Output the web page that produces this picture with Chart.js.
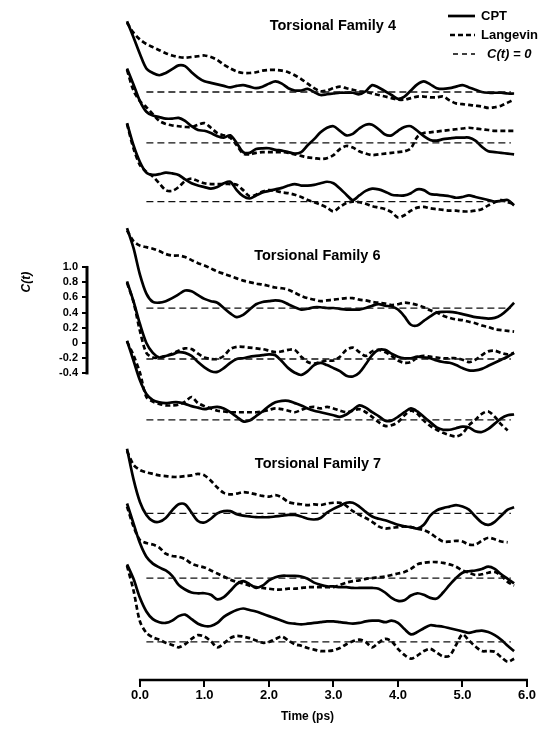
<!DOCTYPE html>
<html lang="en">
<head>
<meta charset="UTF-8" />
<title>C(t) for torsional families</title>
<script src="https://cdn.jsdelivr.net/npm/chart.js"></script>
<style>
  html, body { margin: 0; padding: 0; background: #fff; }
</style>
</head>
<body>
<canvas id="ctChart" width="555" height="730"></canvas>

<script>
// time grid (ps)
const times = [
  -0.2, -0.1,
  0.0, 0.1, 0.2, 0.3, 0.4, 0.5, 0.6, 0.7, 0.8, 0.9,
  1.0, 1.1, 1.2, 1.3, 1.4, 1.5, 1.6, 1.7, 1.8, 1.9,
  2.0, 2.1, 2.2, 2.3, 2.4, 2.5, 2.6, 2.7, 2.8, 2.9,
  3.0, 3.1, 3.2, 3.3, 3.4, 3.5, 3.6, 3.7, 3.8, 3.9,
  4.0, 4.1, 4.2, 4.3, 4.4, 4.5, 4.6, 4.7, 4.8, 4.9,
  5.0, 5.1, 5.2, 5.3, 5.4, 5.5, 5.6, 5.7, 5.8
];

// Torsional Family 4
const cpt4a = [0.93, 0.72,
  0.50, 0.31, 0.25, 0.22, 0.25, 0.30, 0.35, 0.34, 0.26, 0.19,
  0.14, 0.12, 0.10, 0.08, 0.06, 0.08, 0.09, 0.07, 0.05, 0.07,
  0.11, 0.14, 0.11, 0.05, 0.02, 0.02, 0.04, 0.00, -0.04, -0.03,
  -0.02, -0.01, -0.01, -0.01, -0.03, 0.01, 0.09, 0.06, 0.01, -0.04,
  -0.09, -0.06, 0.02, 0.10, 0.14, 0.10, 0.05, 0.04, 0.05, 0.07,
  0.09, 0.06, 0.03, 0.00, -0.01, -0.01, -0.01, -0.02, -0.02];
const lan4a = [0.91, 0.78,
  0.69, 0.63, 0.59, 0.55, 0.51, 0.48, 0.46, 0.45, 0.46, 0.47,
  0.48, 0.46, 0.42, 0.36, 0.31, 0.27, 0.25, 0.25, 0.26, 0.28,
  0.29, 0.29, 0.28, 0.26, 0.22, 0.17, 0.11, 0.05, 0.01, 0.02,
  0.05, 0.07, 0.05, 0.03, 0.01, 0.00, -0.02, -0.04, -0.06, -0.08,
  -0.10, -0.10, -0.08, -0.06, -0.06, -0.07, -0.07, -0.06, -0.11, -0.15,
  -0.16, -0.17, -0.18, -0.19, -0.21, -0.20, -0.18, -0.14, -0.10];
const cpt4b = [0.98, 0.77,
  0.55, 0.41, 0.36, 0.34, 0.32, 0.32, 0.33, 0.29, 0.22, 0.17,
  0.16, 0.13, 0.09, 0.07, 0.10, 0.00, -0.12, -0.13, -0.08, -0.07,
  -0.07, -0.09, -0.10, -0.12, -0.14, -0.12, -0.03, 0.05, 0.14, 0.20,
  0.22, 0.16, 0.10, 0.12, 0.19, 0.24, 0.24, 0.18, 0.11, 0.10,
  0.16, 0.21, 0.22, 0.16, 0.09, 0.04, 0.03, 0.05, 0.06, 0.07,
  0.07, 0.07, 0.03, -0.05, -0.11, -0.12, -0.13, -0.14, -0.15];
const lan4b = [0.96, 0.69,
  0.55, 0.47, 0.38, 0.29, 0.25, 0.23, 0.22, 0.21, 0.21, 0.24,
  0.26, 0.20, 0.13, 0.10, 0.07, -0.03, -0.14, -0.15, -0.13, -0.12,
  -0.12, -0.12, -0.12, -0.13, -0.15, -0.17, -0.19, -0.20, -0.21, -0.20,
  -0.16, -0.08, -0.04, -0.06, -0.11, -0.14, -0.16, -0.15, -0.14, -0.13,
  -0.12, -0.11, -0.07, 0.08, 0.13, 0.14, 0.15, 0.16, 0.17, 0.18,
  0.19, 0.20, 0.19, 0.18, 0.17, 0.16, 0.16, 0.16, 0.16];
const cpt4c = [1.03, 0.74,
  0.52, 0.38, 0.35, 0.36, 0.38, 0.37, 0.35, 0.29, 0.24, 0.21,
  0.19, 0.17, 0.19, 0.24, 0.26, 0.15, 0.07, 0.04, 0.08, 0.12,
  0.14, 0.16, 0.18, 0.21, 0.23, 0.21, 0.21, 0.22, 0.24, 0.26,
  0.24, 0.17, 0.09, 0.02, 0.08, 0.14, 0.17, 0.16, 0.13, 0.09,
  0.08, 0.08, 0.11, 0.16, 0.15, 0.10, 0.09, 0.08, 0.07, 0.05,
  0.06, 0.08, 0.06, 0.04, 0.02, 0.00, 0.01, 0.02, -0.05];
const lan4c = [1.02, 0.70,
  0.48, 0.39, 0.33, 0.24, 0.15, 0.14, 0.19, 0.27, 0.30, 0.27,
  0.24, 0.23, 0.23, 0.23, 0.23, 0.22, 0.15, 0.07, 0.09, 0.13,
  0.15, 0.14, 0.12, 0.11, 0.09, 0.06, 0.02, -0.01, -0.04, -0.08,
  -0.13, -0.07, -0.02, 0.00, -0.01, -0.03, -0.06, -0.08, -0.10, -0.14,
  -0.21, -0.18, -0.12, -0.08, -0.07, -0.09, -0.10, -0.11, -0.12, -0.12,
  -0.13, -0.13, -0.12, -0.10, -0.05, -0.01, 0.02, -0.01, -0.03];

// Torsional Family 6
const cpt6a = [1.05, 0.79,
  0.44, 0.19, 0.08, 0.07, 0.09, 0.13, 0.18, 0.23, 0.22, 0.17,
  0.12, 0.09, 0.07, 0.00, -0.07, -0.12, -0.09, -0.02, 0.05, 0.08,
  0.09, 0.10, 0.09, 0.05, 0.01, -0.02, -0.01, 0.01, 0.01, 0.00,
  0.00, -0.01, -0.02, -0.02, -0.02, 0.00, 0.03, 0.05, 0.03, 0.02,
  -0.02, -0.11, -0.22, -0.23, -0.17, -0.11, -0.06, -0.05, -0.05, -0.06,
  -0.08, -0.10, -0.12, -0.13, -0.14, -0.13, -0.09, -0.02, 0.07];
const lan6a = [1.02, 0.88,
  0.82, 0.80, 0.78, 0.75, 0.71, 0.69, 0.69, 0.67, 0.63, 0.59,
  0.56, 0.52, 0.48, 0.45, 0.42, 0.39, 0.36, 0.34, 0.32, 0.31,
  0.29, 0.27, 0.26, 0.24, 0.20, 0.16, 0.13, 0.11, 0.09, 0.10,
  0.11, 0.12, 0.13, 0.13, 0.11, 0.10, 0.08, 0.07, 0.06, 0.04,
  0.05, 0.07, 0.06, 0.04, 0.01, -0.03, -0.06, -0.10, -0.13, -0.15,
  -0.16, -0.18, -0.20, -0.23, -0.25, -0.28, -0.29, -0.30, -0.31];
const cpt6b = [1.02, 0.76,
  0.46, 0.21, 0.08, 0.02, 0.04, 0.06, 0.09, 0.08, 0.04, -0.04,
  -0.11, -0.16, -0.17, -0.12, -0.05, 0.00, 0.01, 0.03, 0.04, 0.05,
  0.06, 0.05, -0.03, -0.12, -0.18, -0.21, -0.16, -0.08, -0.05, -0.08,
  -0.12, -0.16, -0.22, -0.23, -0.18, -0.07, 0.05, 0.12, 0.12, 0.07,
  0.03, 0.01, 0.01, 0.03, 0.02, 0.01, -0.02, -0.04, -0.05, -0.08,
  -0.12, -0.15, -0.15, -0.13, -0.09, -0.05, -0.01, 0.03, 0.08];
const lan6b = [1.00, 0.75,
  0.37, 0.08, 0.02, 0.02, 0.04, 0.07, 0.11, 0.14, 0.13, 0.07,
  0.02, 0.00, 0.00, 0.04, 0.13, 0.16, 0.16, 0.15, 0.14, 0.13,
  0.11, 0.09, 0.10, 0.12, 0.12, 0.03, -0.04, -0.06, -0.04, -0.02,
  -0.02, 0.03, 0.12, 0.15, 0.09, 0.04, 0.10, 0.12, 0.09, 0.04,
  -0.02, -0.05, -0.04, 0.02, 0.04, 0.03, 0.02, 0.01, 0.01, 0.01,
  -0.01, -0.04, -0.01, 0.05, 0.10, 0.11, 0.08, 0.06, 0.08];
const cpt6c = [1.04, 0.78,
  0.52, 0.34, 0.26, 0.23, 0.22, 0.23, 0.23, 0.21, 0.18, 0.16,
  0.14, 0.16, 0.17, 0.15, 0.10, 0.04, -0.02, -0.01, 0.05, 0.11,
  0.18, 0.23, 0.25, 0.25, 0.22, 0.19, 0.15, 0.12, 0.10, 0.08,
  0.06, 0.04, 0.07, 0.13, 0.19, 0.16, 0.10, 0.05, -0.01, -0.01,
  0.04, 0.10, 0.15, 0.11, 0.04, -0.03, -0.10, -0.13, -0.13, -0.11,
  -0.09, -0.10, -0.15, -0.16, -0.12, -0.05, 0.02, 0.06, 0.07];
const lan6c = [1.03, 0.85,
  0.62, 0.30, 0.24, 0.21, 0.19, 0.19, 0.20, 0.24, 0.30, 0.22,
  0.18, 0.15, 0.12, 0.11, 0.10, 0.10, 0.10, 0.10, 0.10, 0.11,
  0.13, 0.15, 0.14, 0.12, 0.10, 0.13, 0.16, 0.17, 0.15, 0.17,
  0.15, 0.12, 0.10, 0.12, 0.14, 0.10, 0.04, -0.03, -0.08, -0.07,
  -0.03, 0.06, 0.12, 0.08, -0.01, -0.08, -0.13, -0.17, -0.20, -0.22,
  -0.18, -0.07, 0.00, 0.08, 0.11, 0.04, -0.06, -0.14, null];

// Torsional Family 7
const cpt7a = [0.85, 0.45,
  0.15, -0.02, -0.10, -0.11, -0.06, 0.04, 0.12, 0.12, 0.01, -0.10,
  -0.12, -0.07, 0.00, 0.03, 0.03, -0.01, -0.03, -0.04, -0.05, -0.05,
  -0.05, -0.04, -0.03, -0.02, -0.02, -0.04, -0.07, -0.08, -0.06, 0.01,
  0.06, 0.10, 0.14, 0.14, 0.09, 0.02, -0.04, -0.07, -0.09, -0.12,
  -0.15, -0.17, -0.18, -0.20, -0.15, -0.03, 0.04, 0.07, 0.09, 0.11,
  0.09, 0.05, -0.04, -0.12, -0.15, -0.11, -0.03, 0.05, 0.08];
const lan7a = [0.82, 0.64,
  0.57, 0.54, 0.52, 0.50, 0.49, 0.48, 0.48, 0.49, 0.50, 0.52,
  0.50, 0.43, 0.34, 0.27, 0.25, 0.26, 0.28, 0.27, 0.25, 0.23,
  0.22, 0.24, 0.21, 0.15, 0.13, 0.12, 0.11, 0.12, 0.11, 0.13,
  0.14, 0.14, 0.10, 0.03, -0.02, -0.06, -0.11, -0.17, -0.20, -0.19,
  -0.18, -0.17, -0.18, -0.20, -0.22, -0.26, -0.32, -0.37, -0.37, -0.36,
  -0.37, -0.41, -0.41, -0.36, -0.32, -0.34, -0.37, -0.38, null];
const cpt7b = [0.98, 0.72,
  0.46, 0.28, 0.19, 0.14, 0.10, 0.03, -0.09, -0.15, -0.19, -0.20,
  -0.20, -0.22, -0.28, -0.25, -0.17, -0.08, -0.04, -0.08, -0.13, -0.10,
  -0.03, 0.01, 0.03, 0.03, 0.03, 0.02, -0.01, -0.06, -0.09, -0.11,
  -0.11, -0.12, -0.12, -0.13, -0.13, -0.13, -0.13, -0.14, -0.19, -0.26,
  -0.30, -0.29, -0.23, -0.20, -0.22, -0.26, -0.27, -0.19, -0.09, 0.00,
  0.07, 0.09, 0.10, 0.12, 0.15, 0.12, 0.05, -0.01, -0.07];
const lan7b = [0.94, 0.68,
  0.50, 0.46, 0.44, 0.40, 0.32, 0.29, 0.28, 0.25, 0.19, 0.16,
  0.14, 0.10, 0.06, 0.02, -0.02, -0.05, -0.07, -0.10, -0.12, -0.13,
  -0.14, -0.15, -0.15, -0.14, -0.14, -0.13, -0.12, -0.12, -0.12, -0.12,
  -0.12, -0.09, -0.06, -0.04, -0.03, -0.01, 0.00, 0.01, 0.02, 0.04,
  0.06, 0.08, 0.12, 0.18, 0.20, 0.21, 0.21, 0.20, 0.18, 0.15,
  0.10, 0.07, 0.04, 0.05, 0.07, 0.08, 0.03, -0.05, -0.10];
const cpt7c = [1.02, 0.83,
  0.58, 0.40, 0.30, 0.26, 0.25, 0.28, 0.34, 0.36, 0.30, 0.24,
  0.21, 0.21, 0.25, 0.33, 0.38, 0.42, 0.44, 0.42, 0.40, 0.37,
  0.34, 0.31, 0.28, 0.25, 0.24, 0.23, 0.24, 0.25, 0.26, 0.27,
  0.27, 0.26, 0.25, 0.24, 0.25, 0.27, 0.28, 0.28, 0.26, 0.28,
  0.25, 0.17, 0.10, 0.13, 0.18, 0.22, 0.21, 0.20, 0.18, 0.16,
  0.14, 0.12, 0.14, 0.15, 0.13, 0.09, 0.03, -0.05, -0.12];
const lan7c = [1.00, 0.68,
  0.27, 0.12, 0.06, 0.03, -0.01, -0.04, -0.07, -0.03, 0.04, 0.09,
  0.07, 0.01, -0.07, -0.02, 0.05, 0.08, 0.07, 0.05, 0.02, -0.01,
  0.00, 0.04, 0.07, 0.02, -0.03, -0.05, -0.08, -0.10, -0.12, -0.12,
  -0.11, -0.08, -0.03, 0.01, 0.03, 0.00, -0.07, -0.01, 0.04, 0.01,
  -0.09, -0.17, -0.22, -0.18, -0.12, -0.09, -0.14, -0.19, -0.18, -0.04,
  0.10, 0.02, -0.06, -0.12, -0.12, -0.13, -0.20, -0.26, -0.22];

const familyTitles = ['Torsional Family 4', 'Torsional Family 6', 'Torsional Family 7'];
const timeTicks = [0, 1, 2, 3, 4, 5, 6];
const cTicks = [-0.4, -0.2, 0, 0.2, 0.4, 0.6, 0.8, 1.0];
const cTickLabels = ['-0.4', '-0.2', '0', '0.2', '0.4', '0.6', '0.8', '1.0'];
const zeroSpan = [0.1, 5.75];   // extent of the C(t) = 0 reference lines

// layout: each curve is shifted up by its offset (C(t) units)
const panels = [
  [cpt4a, lan4a], [cpt4b, lan4b], [cpt4c, lan4c],
  [cpt6a, lan6a], [cpt6b, lan6b], [cpt6c, lan6c],
  [cpt7a, lan7a], [cpt7b, lan7b], [cpt7c, lan7c]
];
const panelOffsets = [7.73, 7.06, 6.29, 4.89, 4.22, 3.42, 2.19, 1.34, 0.50];
const barZero = 4.43;                  // where the 0 of the scale bar sits
const titleAnchors = [[2.99, 8.60], [2.75, 5.58], [2.76, 2.835]];

const FONT = '"Liberation Sans", Arial, Helvetica, sans-serif';

const datasets = [];
panels.forEach(([cpt, lan], i) => {
  const off = panelOffsets[i];
  const shift = (arr) => times.map((t, j) => ({ x: t, y: arr[j] === null ? null : arr[j] + off }));
  datasets.push({
    label: 'C(t) = 0',
    data: zeroSpan.map((t) => ({ x: t, y: off })),
    borderColor: '#111',
    borderWidth: 1.3,
    borderDash: [7, 4],
    pointRadius: 0,
  });
  datasets.push({
    label: 'Langevin',
    data: shift(lan),
    borderColor: '#000',
    borderWidth: 2.7,
    borderDash: [5, 3],
    pointRadius: 0,
    tension: 0.3,
  });
  datasets.push({
    label: 'CPT',
    data: shift(cpt),
    borderColor: '#000',
    borderWidth: 2.7,
    pointRadius: 0,
    tension: 0.3,
  });
});

// extra drawing: axis line, scale bar, panel titles, legend
const decor = {
  id: 'decor',
  afterDraw(chart) {
    const { ctx } = chart;
    const x = chart.scales.x;
    const y = chart.scales.y;
    ctx.save();
    ctx.strokeStyle = '#000';
    ctx.fillStyle = '#000';

    // time axis from 0.0 to 6.0
    ctx.lineWidth = 2.5;
    ctx.beginPath();
    ctx.moveTo(x.getPixelForValue(0) - 1, x.top);
    ctx.lineTo(x.getPixelForValue(6) + 1, x.top);
    ctx.stroke();

    // C(t) scale bar
    ctx.lineWidth = 3;
    ctx.beginPath();
    ctx.moveTo(y.right - 1, y.getPixelForValue(barZero + cTicks[0]) + 1);
    ctx.lineTo(y.right - 1, y.getPixelForValue(barZero + cTicks[cTicks.length - 1]) - 1);
    ctx.stroke();

    ctx.textAlign = 'center';
    ctx.textBaseline = 'middle';

    ctx.save();
    ctx.font = 'italic bold 12px ' + FONT;
    ctx.translate(27, y.getPixelForValue(barZero + 0.8));
    ctx.rotate(-Math.PI / 2);
    ctx.fillText('C(t)', 0, 0);
    ctx.restore();

    ctx.font = 'bold 14.5px ' + FONT;
    familyTitles.forEach((title, i) => {
      const [tx, ty] = titleAnchors[i];
      ctx.fillText(title, x.getPixelForValue(tx), y.getPixelForValue(ty));
    });

    // legend
    const items = [
      { text: 'CPT', dash: [], width: 2.7, x0: 448, tx: 481, font: 'bold 13px ' },
      { text: 'Langevin', dash: [5, 3], width: 2.7, x0: 450, tx: 481, font: 'bold 13px ' },
      { text: 'C(t) = 0', dash: [5, 4], width: 1.3, x0: 453, tx: 487, font: 'italic bold 13px ' },
    ];
    ctx.textAlign = 'left';
    items.forEach((it, i) => {
      const ly = 16 + i * 19;
      ctx.lineWidth = it.width;
      ctx.setLineDash(it.dash);
      ctx.beginPath();
      ctx.moveTo(it.x0, ly);
      ctx.lineTo(475, ly);
      ctx.stroke();
      ctx.setLineDash([]);
      ctx.font = it.font + FONT;
      ctx.fillText(it.text, it.tx, ly);
    });
    ctx.restore();
  }
};

new Chart(document.getElementById('ctChart').getContext('2d'), {
  type: 'line',
  data: { datasets },
  options: {
    responsive: false,
    animation: false,
    devicePixelRatio: 1,
    layout: { padding: { top: 8, right: 28, left: 0, bottom: 0 } },
    plugins: {
      legend: { display: false },
      tooltip: { enabled: false },
    },
    scales: {
      x: {
        type: 'linear',
        min: -0.805,
        max: 6.0,
        afterBuildTicks: (s) => { s.ticks = timeTicks.map((v) => ({ value: v })); },
        afterFit: (s) => { s.height = 50; },
        ticks: {
          autoSkip: false,
          maxRotation: 0,
          padding: 1,
          color: '#000',
          font: { family: FONT, size: 13, weight: 'bold' },
          callback: (v) => Number(v).toFixed(1),
        },
        grid: { drawOnChartArea: false, tickLength: 7, lineWidth: 2, color: '#000' },
        border: { display: false },
        title: {
          display: true,
          text: 'Time (ps)',
          color: '#000',
          font: { family: FONT, size: 12, weight: 'bold' },
          padding: { top: 0, bottom: 6 },
        },
      },
      y: {
        type: 'linear',
        min: 0,
        max: 8.8,
        afterBuildTicks: (s) => { s.ticks = cTicks.map((v) => ({ value: v + barZero })); },
        afterFit: (s) => { s.width = 88; },
        ticks: {
          autoSkip: false,
          padding: 4,
          color: '#000',
          font: { family: FONT, size: 11, weight: 'bold' },
          callback: (v, i) => cTickLabels[i],
        },
        grid: { drawOnChartArea: false, tickLength: 6, lineWidth: 2, color: '#000' },
        border: { display: false },
      },
    },
  },
  plugins: [decor],
});
</script>
</body>
</html>
